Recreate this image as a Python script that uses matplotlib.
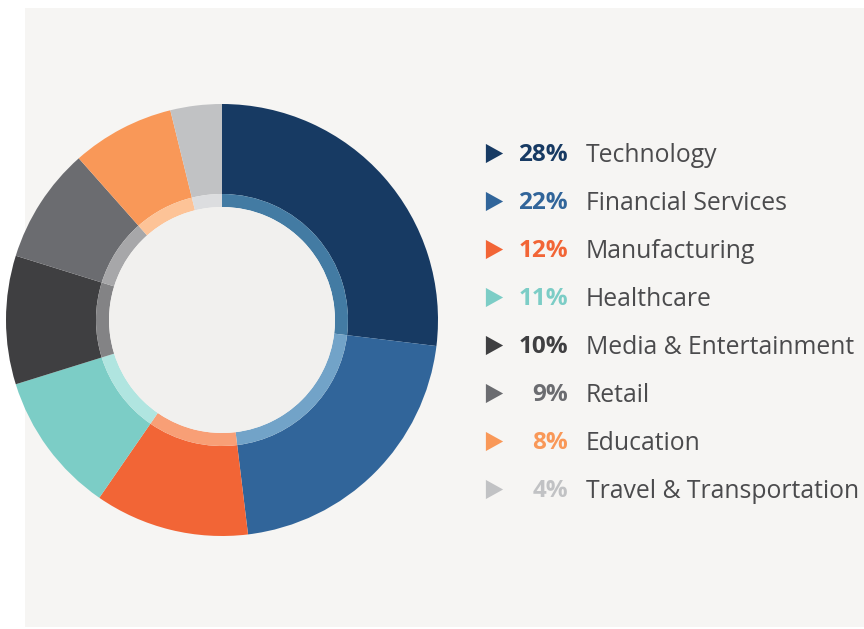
import numpy as np
import matplotlib.pyplot as plt
from matplotlib.patches import Rectangle
from matplotlib.path import Path

plt.rcParams['font.family'] = ['Open Sans', 'DejaVu Sans']

# Data
categories = ["Technology", "Financial Services", "Manufacturing", "Healthcare",
              "Media & Entertainment", "Retail", "Education", "Travel & Transportation"]
shares = [28, 22, 12, 11, 10, 9, 8, 4]
colors = ["#173a63", "#31659a", "#f26536", "#7ccdc6",
          "#3f3f41", "#6b6c70", "#f99858", "#c1c2c4"]
inner_colors = ["#437ba3", "#72a3c8", "#f89f76", "#b0e5e0",
                "#838385", "#a7a7a9", "#fdc397", "#dcdddf"]

W, H = 864, 629
fig = plt.figure(figsize=(W / 100, H / 100), dpi=100, facecolor="white")
ax = fig.add_axes([0, 0, 1, 1])

# panel background
ax.add_patch(Rectangle((25, 2), W - 25, H - 10, facecolor="#f6f5f3",
                       edgecolor="none", zorder=0))

cx, cy = 222, H - 320
r_out, r_band, r_in = 216, 126, 113

ax.pie(shares, colors=colors, startangle=90, counterclock=False,
       center=(cx, cy), radius=r_out, frame=True,
       wedgeprops=dict(width=r_out - r_band, linewidth=0))
ax.pie(shares, colors=inner_colors, startangle=90, counterclock=False,
       center=(cx, cy), radius=r_band, frame=True,
       wedgeprops=dict(width=r_band - r_in, linewidth=0))
ax.add_patch(plt.Circle((cx, cy), r_in, facecolor="#f1f0ee", edgecolor="none", zorder=3))
ax.set_xlim(0, W)
ax.set_ylim(0, H)
ax.set_aspect("equal")
ax.axis("off")

# legend
tri = Path([(-0.9, -1), (0.9, 0), (-0.9, 1), (-0.9, -1)],
           [Path.MOVETO, Path.LINETO, Path.LINETO, Path.CLOSEPOLY])
for i, (cat, s, c) in enumerate(zip(categories, shares, colors)):
    y = H - (153 + 48 * i)
    ax.scatter([494], [y], marker=tri, s=190, color=c, linewidths=0, zorder=4)
    ax.text(568, y - 2, f"{s}%", ha="right", va="center", fontsize=17.5,
            fontweight="bold", color=c, zorder=4)
    ax.text(586, y - 2, cat, ha="left", va="center", fontsize=17.8,
            color="#4b4b4d", zorder=4)

fig.savefig("out.png", dpi=100, facecolor="white")
